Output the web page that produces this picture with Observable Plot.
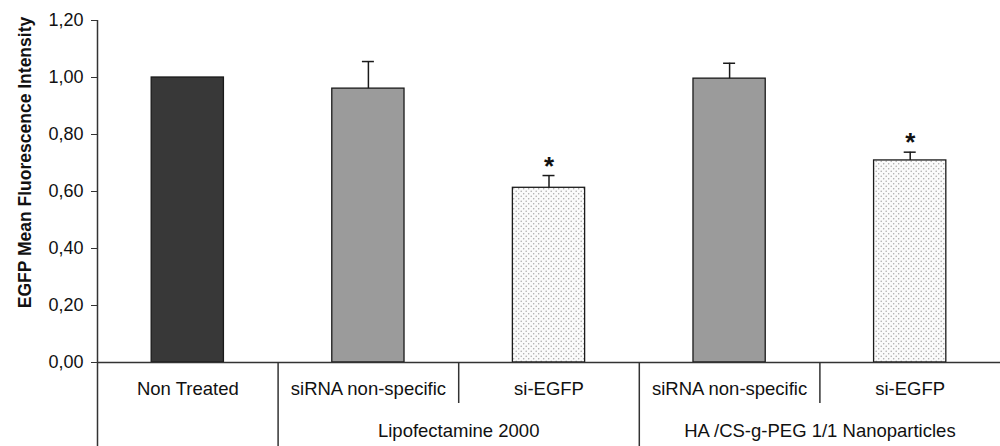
<!DOCTYPE html>
<html>
<head>
<meta charset="utf-8">
<script src="https://cdn.jsdelivr.net/npm/d3@7"></script>
<script src="https://cdn.jsdelivr.net/npm/@observablehq/plot@0.6"></script>
<style>
  html, body { margin: 0; padding: 0; background: #fff; }
  #chart svg { display: block; }
</style>
</head>
<body>
<div id="chart"></div>
<script>
// ---- data ----
const categories = ["Non Treated", "siRNA non-specific", "si-EGFP", "siRNA non-specific", "si-EGFP"];
const groups = ["", "Lipofectamine 2000", "Lipofectamine 2000", "HA /CS-g-PEG 1/1 Nanoparticles", "HA /CS-g-PEG 1/1 Nanoparticles"];
const values = [1.00, 0.961, 0.613, 0.996, 0.709];
const errors = [0, 0.095, 0.043, 0.054, 0.029];
const significant = [false, false, true, false, true];
const yTicks = [0, 0.2, 0.4, 0.6, 0.8, 1.0, 1.2];
const yTitle = "EGFP Mean Fluorescence Intensity";

// ---- layout / style ----
const W = 1000, H = 446, mTop = 20, mLeft = 97, zeroPx = 362;
const yMax = 1.2;
const pxPerUnit = (zeroPx - mTop) / yMax;
const yMin = -(H - zeroPx) / pxPerUnit;
const bandPx = (W - mLeft) / categories.length;
const halfBar = 0.2;
const capHalf = 6 / bandPx;
const fillFor = {"Non Treated": "#383838", "siRNA non-specific": "#9b9b9b", "si-EGFP": "url(#dots)"};
const font = "Liberation Sans, Arial, Helvetica, sans-serif";

const rows = categories.map((c, i) => ({
  i, cat: c, group: groups[i], value: values[i], err: errors[i], sig: significant[i],
  x: i + 0.5
}));

// group spans
const groupSpans = [];
rows.forEach(r => {
  if (!r.group) return;
  let g = groupSpans.find(s => s.group === r.group);
  if (!g) { g = {group: r.group, start: r.i, end: r.i + 1}; groupSpans.push(g); }
  else g.end = r.i + 1;
});
const fullLines = [];
const partialLines = [];
groupSpans.forEach(s => {
  fullLines.push(s.start);
  for (let k = s.start + 1; k < s.end; k++) partialLines.push(k);
});
const partialBottom = -41 / pxPerUnit;

const chart = Plot.plot({
  width: W, height: H,
  marginTop: mTop, marginLeft: mLeft, marginRight: 0, marginBottom: 0,
  style: {fontFamily: font, background: "#fff", color: "#111"},
  x: {domain: [0, categories.length], axis: null},
  y: {domain: [yMin, yMax], axis: null},
  marks: [
    // bars
    Plot.rectY(rows, {
      x1: d => d.x - halfBar, x2: d => d.x + halfBar, y1: 0, y2: "value",
      fill: d => fillFor[d.cat], stroke: "#1a1a1a", strokeWidth: 1.3
    }),
    // error bars
    Plot.ruleX(rows.filter(d => d.err > 0), {x: "x", y1: "value", y2: d => d.value + d.err, stroke: "#1a1a1a", strokeWidth: 1.5}),
    Plot.ruleY(rows.filter(d => d.err > 0), {y: d => d.value + d.err, x1: d => d.x - capHalf, x2: d => d.x + capHalf, stroke: "#1a1a1a", strokeWidth: 1.5}),
    // asterisks
    Plot.text(rows.filter(d => d.sig), {x: "x", y: d => d.value + d.err, text: () => "*", dy: -1, fontSize: 26, fontWeight: "bold", lineAnchor: "bottom", fill: "#111"}),
    // y axis line
    Plot.ruleX([0], {y1: yMin, y2: yMax, stroke: "#333", strokeWidth: 1.5}),
    // baseline
    Plot.ruleY([0], {x1: 0, x2: categories.length, stroke: "#333", strokeWidth: 1.5}),
    // y ticks
    Plot.axisY({ticks: yTicks, tickFormat: d => d.toFixed(2).replace(".", ","), tickSize: 6, tickPadding: 8, fontSize: 18, stroke: "#333", label: null}),
    // y title
    Plot.text([yTitle], {x: 0, y: yMax / 2, rotate: -90, dx: -72, dy: -29, fontSize: 17.5, fontWeight: "bold", fill: "#111"}),
    // table lines
    Plot.ruleX(fullLines, {x: d => d, y1: 0, y2: yMin, stroke: "#333", strokeWidth: 1.5}),
    Plot.ruleX(partialLines, {x: d => d, y1: 0, y2: partialBottom, stroke: "#333", strokeWidth: 1.5}),
    // category labels
    Plot.text(rows, {x: "x", y: 0, text: "cat", dy: 27, fontSize: 18.5, fill: "#111"}),
    // group labels
    Plot.text(groupSpans, {x: d => (d.start + d.end) / 2, y: 0, text: "group", dy: 69, fontSize: 18.5, fill: "#111"})
  ]
});

// dotted pattern for si-EGFP bars
const defs = d3.select(chart).insert("defs", ":first-child");
const pat = defs.append("pattern").attr("id", "dots").attr("patternUnits", "userSpaceOnUse")
  .attr("width", 5).attr("height", 5);
pat.append("rect").attr("width", 5).attr("height", 5).attr("fill", "#fbfbfb");
pat.append("circle").attr("cx", 1.2).attr("cy", 1.2).attr("r", 0.75).attr("fill", "#a8a8a8");
pat.append("circle").attr("cx", 3.7).attr("cy", 3.7).attr("r", 0.75).attr("fill", "#a8a8a8");

document.getElementById("chart").appendChild(chart);
</script>
</body>
</html>
